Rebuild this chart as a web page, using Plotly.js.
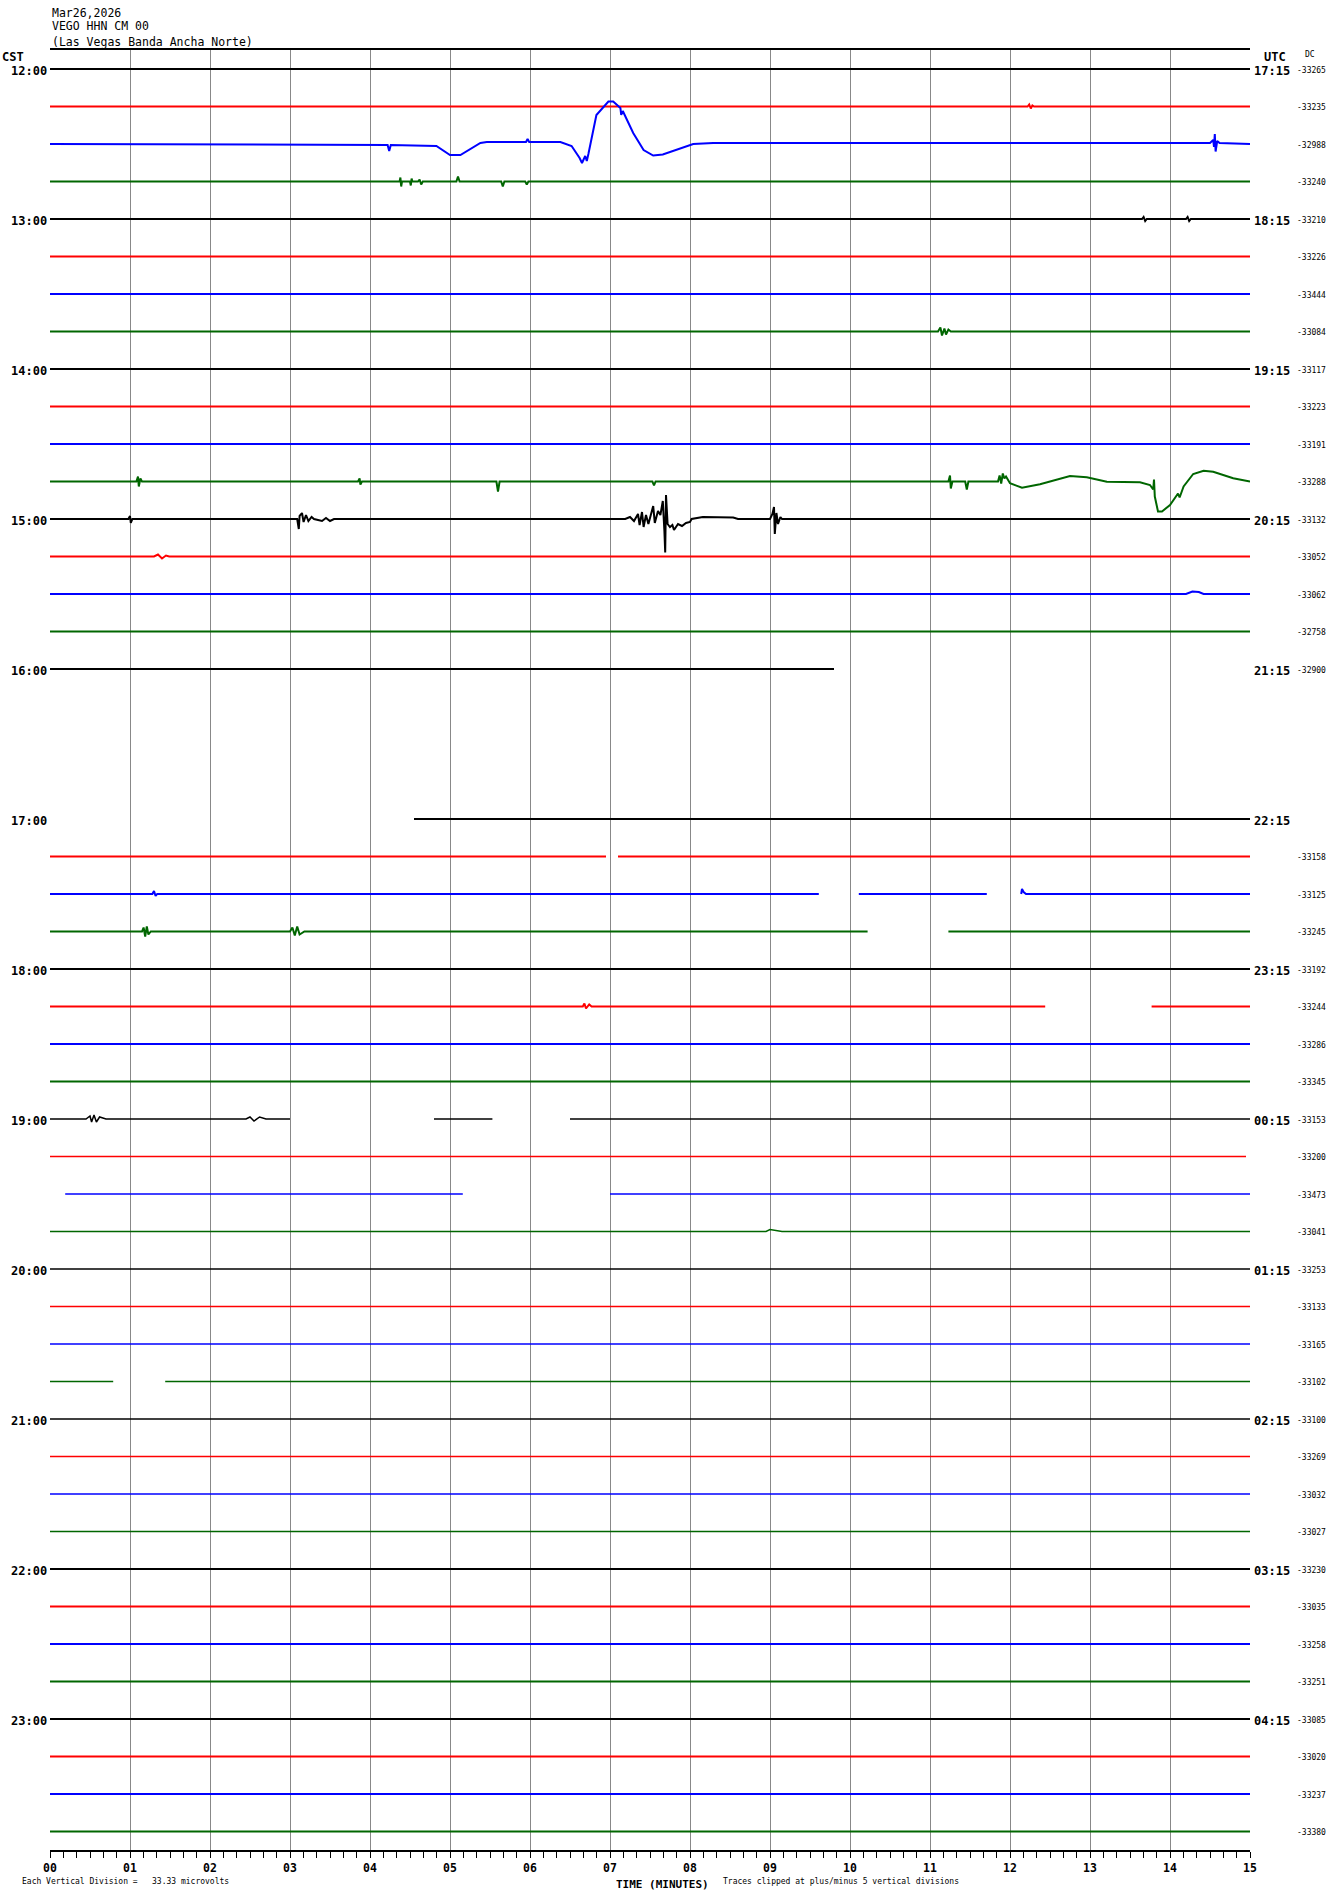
<!DOCTYPE html>
<html><head><meta charset="utf-8">
<script src="https://cdn.plot.ly/plotly-3.0.1.min.js"></script>
<style>html,body{margin:0;padding:0;background:#fff;}#chart{width:1330px;height:1894px;}</style>
</head><body><div id="chart"></div>
<script>
// ---------- text / labels ----------
const headerLines = ['Mar26,2026', 'VEGO HHN CM 00', '(Las Vegas Banda Ancha Norte)'];
const minuteTicks = [0,1,2,3,4,5,6,7,8,9,10,11,12,13,14,15];
const minuteTickText = ['00','01','02','03','04','05','06','07','08','09','10','11','12','13','14','15'];
const cstHourLabels = ['12:00','13:00','14:00','15:00','16:00','17:00','18:00','19:00','20:00','21:00','22:00','23:00'];
const utcHourLabels = ['17:15','18:15','19:15','20:15','21:15','22:15','23:15','00:15','01:15','02:15','03:15','04:15'];
const dcOffsets = [-33265,-33235,-32988,-33240,-33210,-33226,-33444,-33084,-33117,-33223,-33191,-33288,
  -33132,-33052,-33062,-32758,-32900,null,null,null,null,-33158,-33125,-33245,-33192,-33244,-33286,-33345,
  -33153,-33200,-33473,-33041,-33253,-33133,-33165,-33102,-33100,-33269,-33032,-33027,-33230,-33035,-33258,
  -33251,-33085,-33020,-33237,-33380];

// ---------- data gaps (minutes with data per row; rows not listed are complete 0-15) ----------
const rowSegments = {
  16: [[0,9.8]],
  17: [], 18: [], 19: [],
  20: [[4.55,15]],
  21: [[0,6.95],[7.1,15]],
  22: [[0,9.61],[10.11,11.71],[12.14,15]],
  23: [[0,10.22],[11.23,15]],
  25: [[0,12.44],[13.77,15]],
  28: [[0,3.0],[4.8,5.53],[6.5,15]],
  29: [[0,14.95]],
  30: [[0.19,5.16],[7.0,15]],
  35: [[0,0.79],[1.44,15]]
};

// ---------- signal features (minute, amplitude in trace units, + = up) ----------
const r01Min = [12.22,12.24,12.26,12.28,12.30];
const r01Amp = [0,2,-2,1,0];
const r02Min = [4.13,4.22,4.24,4.26,4.83,5.0,5.13,5.38,5.46,5.95,5.97,5.99,6.38,6.52,6.62,6.65,6.69,6.71,6.73,6.83,6.98,7.04,7.13,7.14,7.16,7.29,7.42,7.54,7.66,7.88,8.04,8.29,9.13,14.5,14.54,14.55,14.56,14.57,14.59,14.62];
const r02Amp = [-1,-1,-7,-1,-2,-11,-11,1,2,2,5,2,2,-2,-14,-19,-12,-17,-10,29,42.5,42.5,36,29,33,11,-6,-11.5,-10.5,-4,0,1,1,1,4,-3,10,-7.5,3,1];
const r03Min = [4.37,4.38,4.39,4.40,4.50,4.51,4.52,4.53,4.60,4.62,4.64,4.66,5.08,5.10,5.12,5.64,5.66,5.68,5.94,5.96,5.98];
const r03Amp = [0,4,-5,0,0,-4,3,0,0,2,-3,0,0,5,0,0,-5,0,0,-3,0];
const r04Min = [13.65,13.67,13.69,13.71,14.20,14.22,14.24,14.26];
const r04Amp = [0,2,-2,0,0,2,-2,0];
const r07Min = [11.10,11.13,11.15,11.18,11.20,11.23,11.26];
const r07Amp = [0,4,-4,3,-3,2,0];
const r11Min = [1.08,1.10,1.11,1.13,1.15,3.85,3.87,3.88,3.90,5.58,5.60,5.62,7.53,7.55,7.57,10.375,11.23,11.25,11.26,11.28,11.44,11.46,11.48,11.85,11.87,11.89,11.91,11.93,11.95,12.0,12.15,12.375,12.75,12.96,13.21,13.625,13.75,13.79,13.80,13.81,13.85,13.90,14.0,14.10,14.12,14.17,14.29,14.42,14.54,14.79,15.0];
const r11Amp = [0,5,-5,3,0,0,3,-3,0,0,-10,0,0,-4,0,0,0,6,-7,0,0,-8,0,0,6,-2,8,3,5,-1.8,-6.2,-2.8,5.5,4.2,-0.2,-0.8,-3.5,-8,2,-15,-30,-30,-23.5,-12,-16,-5,7.5,10.8,9.8,3.2,-0.2];
const r12Min = [0.98,1.0,1.01,1.03,3.09,3.11,3.12,3.15,3.17,3.20,3.23,3.27,3.30,3.40,3.45,3.50,3.55,7.19,7.25,7.30,7.35,7.37,7.40,7.42,7.45,7.48,7.52,7.54,7.56,7.60,7.63,7.66,7.68,7.69,7.70,7.72,7.75,7.78,7.80,7.85,7.90,7.95,8.0,8.02,8.16,8.54,8.60,9.0,9.03,9.05,9.06,9.08,9.10,9.13,9.15];
const r12Amp = [0,3,-4,0,0,-10,3,6,-3,4,-2,2,0,-2,1,-2,0,0,2,-2,5,-6,7,-8,4,-5,6,13,-4,8,4,18,-12,-33.5,24,-5,-8,-6,-11,-5,-7,-4,-3,0,2,1.5,0,0,5,12,-15,6,-5,2,0];
const r13Min = [1.30,1.35,1.40,1.45,1.49];
const r13Amp = [0,2,-2,1,0];
const r14Min = [14.20,14.28,14.36,14.42];
const r14Amp = [0,2.5,2,0];
const r22Min = [1.28,1.30,1.32,1.34,12.15,12.17,12.20];
const r22Amp = [0,3,-2,0,5,2,0];
const r23Min = [1.15,1.17,1.19,1.21,1.23,1.26,3.0,3.03,3.06,3.09,3.12,3.18];
const r23Amp = [0,4,-5,5,-3,0,0,4,-4,5,-3,0];
const r25Min = [6.66,6.68,6.70,6.74,6.77];
const r25Amp = [0,3,-2,2,0];
const r28Min = [0.45,0.50,0.52,0.55,0.58,0.62,0.70,2.45,2.50,2.55,2.62,2.70];
const r28Amp = [0,3,-3,4,-3,2,0,0,2,-2,2,0];
const r31Min = [8.95,9.0,9.1,9.15];
const r31Amp = [0,2,1,0];

const rowEvents = {1:[r01Min,r01Amp],2:[r02Min,r02Amp],3:[r03Min,r03Amp],4:[r04Min,r04Amp],7:[r07Min,r07Amp],
  11:[r11Min,r11Amp],12:[r12Min,r12Amp],13:[r13Min,r13Amp],14:[r14Min,r14Amp],22:[r22Min,r22Amp],
  23:[r23Min,r23Amp],25:[r25Min,r25Amp],28:[r28Min,r28Amp],31:[r31Min,r31Amp]};

// ---------- styling ----------
const NROWS = 48;
const UNITS_PER_ROW = 37.5;
const rowColors = ['#000000','#ff0000','#0000ff','#006600'];
const MONO = '"DejaVu Sans Mono", "Liberation Mono", monospace';

const traces = [];
for (let r = 0; r < NROWS; r++) {
  const segs = (r in rowSegments) ? rowSegments[r] : [[0,15]];
  if (!segs.length) continue;
  const ev = rowEvents[r];
  const xs = [], ys = [];
  segs.forEach((s, i) => {
    if (i > 0) { xs.push(null); ys.push(null); }
    const pts = [[s[0],0]];
    if (ev) ev[0].forEach((t, k) => { if (t > s[0] && t < s[1]) pts.push([t, ev[1][k]]); });
    pts.push([s[1], 0]);
    pts.forEach(p => { xs.push(p[0]); ys.push(-r + p[1] / UNITS_PER_ROW); });
  });
  let w = 2;
  if (r >= 28 && r <= 39) w = 1.5;
  if (r >= 40) w = 2.2;
  traces.push({type:'scatter', mode:'lines', x:xs, y:ys, line:{color:rowColors[r%4], width:w},
    hoverinfo:'skip', showlegend:false, connectgaps:false});
}

const plotTop = 50, plotH = 1800, plotL = 50, plotW = 1200;
const pyPaper = px => 1 - (px - plotTop) / plotH;
const pxPaper = px => (px - plotL) / plotW;

const ann = [];
headerLines.forEach((t, i) => ann.push({text:t, xref:'paper', yref:'paper', x:pxPaper(50), y:pyPaper([12.5,26,42][i]),
  xanchor:'left', yanchor:'middle', showarrow:false, font:{family:MONO, size:11.5, color:'#000'}}));
ann.push({text:'<b>CST</b>', xref:'paper', yref:'paper', x:pxPaper(0), y:pyPaper(57), xanchor:'left', yanchor:'middle',
  showarrow:false, font:{family:MONO, size:12, color:'#000'}});
ann.push({text:'<b>UTC</b>', xref:'paper', yref:'paper', x:pxPaper(1275), y:pyPaper(57), xanchor:'center', yanchor:'middle',
  showarrow:false, font:{family:MONO, size:12, color:'#000'}});
ann.push({text:'DC', xref:'paper', yref:'paper', x:pxPaper(1310), y:pyPaper(54), xanchor:'center', yanchor:'middle',
  showarrow:false, font:{family:MONO, size:8, color:'#000'}});
cstHourLabels.forEach((t, i) => ann.push({text:'<b>'+t+'</b>', xref:'paper', yref:'y', x:pxPaper(49), y:-(i*4),
  xanchor:'right', yanchor:'middle', yshift:-2, showarrow:false, font:{family:MONO, size:12, color:'#000'}}));
utcHourLabels.forEach((t, i) => ann.push({text:'<b>'+t+'</b>', xref:'paper', yref:'y', x:pxPaper(1252), y:-(i*4),
  xanchor:'left', yanchor:'middle', yshift:-2, showarrow:false, font:{family:MONO, size:12, color:'#000'}}));
dcOffsets.forEach((v, r) => { if (v !== null) ann.push({text:String(v), xref:'paper', yref:'y', x:pxPaper(1295), y:-r,
  xanchor:'left', yanchor:'middle', yshift:-1, showarrow:false, font:{family:MONO, size:8, color:'#000'}}); });
ann.push({text:'<b>TIME (MINUTES)</b>', xref:'paper', yref:'paper', x:pxPaper(662), y:pyPaper(1884), xanchor:'center', yanchor:'middle',
  showarrow:false, font:{family:MONO, size:11, color:'#000'}});
ann.push({text:'Each Vertical Division =   33.33 microvolts', xref:'paper', yref:'paper', x:pxPaper(20), y:pyPaper(1882),
  xanchor:'left', yanchor:'middle', showarrow:false, font:{family:MONO, size:8, color:'#000'}});
ann.push({text:'Traces clipped at plus/minus 5 vertical divisions', xref:'paper', yref:'paper', x:pxPaper(721), y:pyPaper(1882),
  xanchor:'left', yanchor:'middle', showarrow:false, font:{family:MONO, size:8, color:'#000'}});

const layout = {
  width:1330, height:1894,
  margin:{l:50, r:80, t:50, b:44, pad:0},
  paper_bgcolor:'#ffffff', plot_bgcolor:'#ffffff',
  showlegend:false,
  xaxis:{range:[0,15], tickmode:'array', tickvals:minuteTicks, ticktext:minuteTickText,
    ticks:'outside', ticklen:6, tickwidth:1, tickcolor:'#000',
    tickfont:{family:MONO, size:11.5, color:'#000', weight:'bold'},
    showgrid:true, gridcolor:'#888888', gridwidth:1, zeroline:false,
    showline:true, linecolor:'#000', linewidth:2, mirror:true,
    minor:{tickmode:'linear', tick0:0, dtick:1/6, ticks:'outside', ticklen:6, tickwidth:1, tickcolor:'#000', showgrid:false},
    fixedrange:true},
  yaxis:{range:[-47.4933, 0.5067], showticklabels:false, ticks:'', showgrid:false, zeroline:false,
    showline:false, fixedrange:true},
  annotations:ann
};

Plotly.newPlot('chart', traces, layout, {staticPlot:true, displayModeBar:false});
</script></body></html>
